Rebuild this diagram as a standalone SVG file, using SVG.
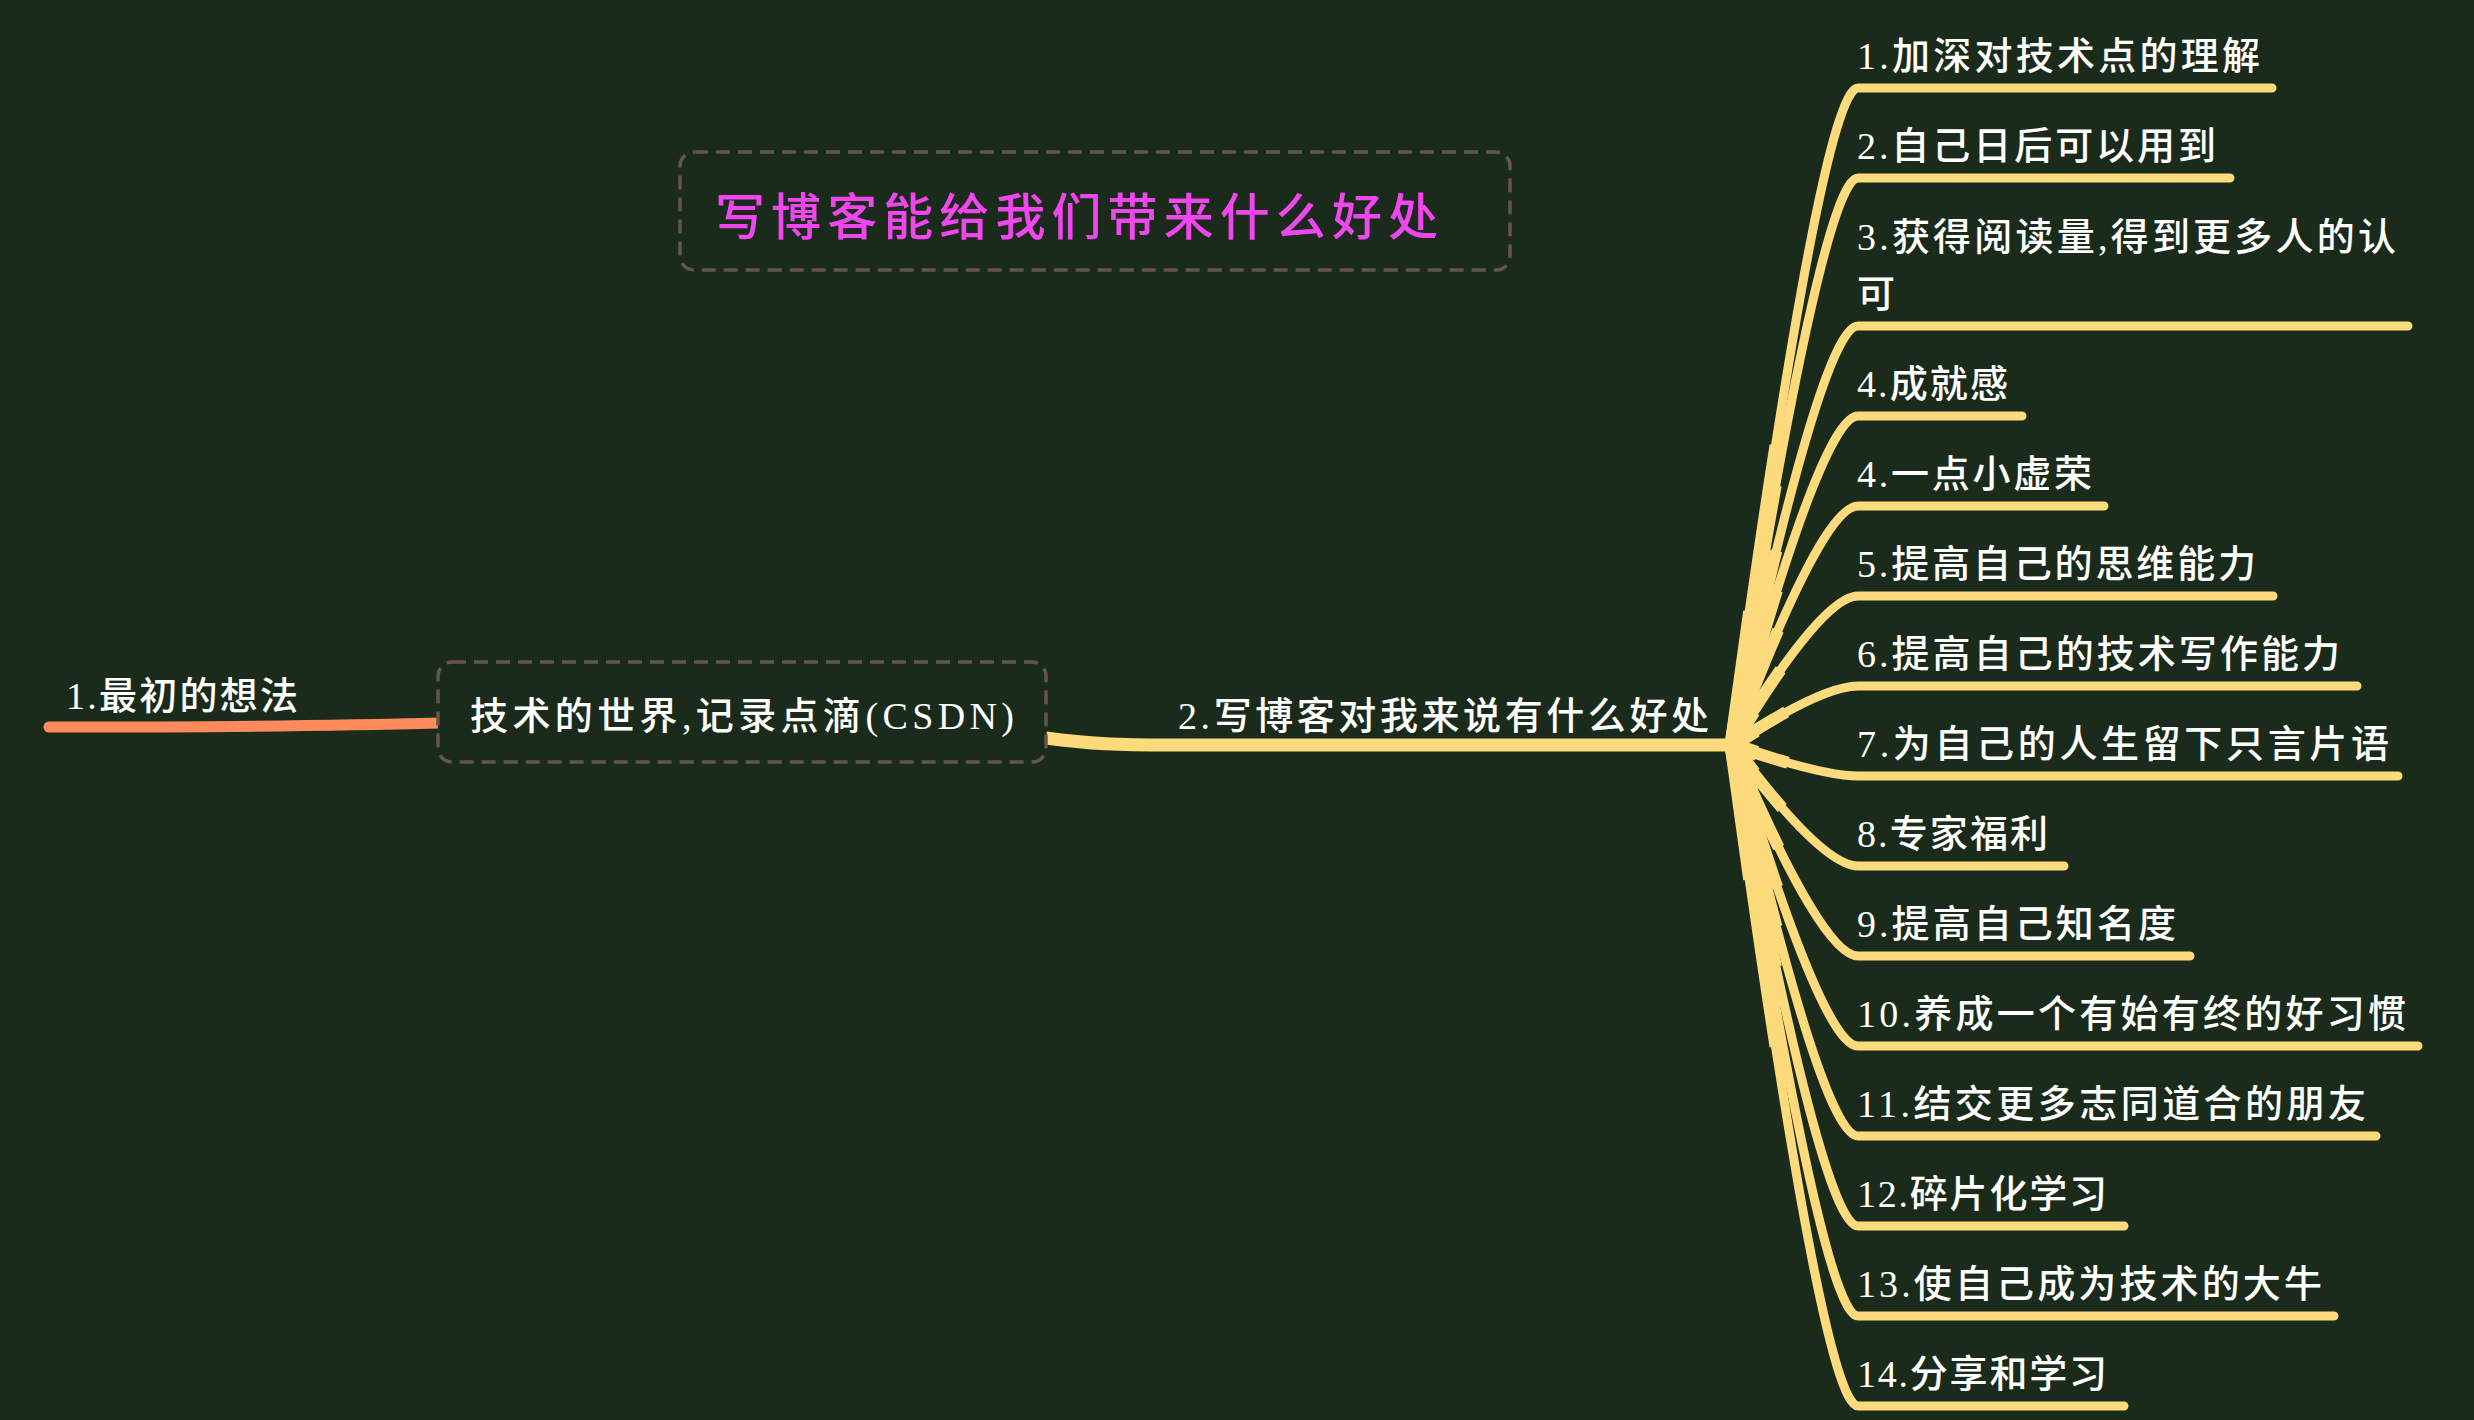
<svg xmlns="http://www.w3.org/2000/svg" width="2474" height="1420" viewBox="0 0 2474 1420">
<style>
.t{font-family:"Liberation Serif","Noto Sans CJK SC",serif;fill:#ffffff;font-size:38px;font-weight:500}
.title{font-family:"Liberation Serif","Noto Sans CJK SC",serif;fill:#f046ee;font-size:50px;font-weight:500}
.box{fill:#1b2b1b;stroke:#65564c;stroke-width:3.5;stroke-dasharray:14 8}
.br{fill:none;stroke:#fddb7c;stroke-width:9;stroke-linecap:round;stroke-linejoin:round}
.tp1{fill:none;stroke:#fddb7c;stroke-width:12;stroke-dasharray:45 200}
.tp2{fill:none;stroke:#fddb7c;stroke-width:15;stroke-dasharray:20 200}
</style>
<rect x="0" y="0" width="2474" height="1420" fill="#1b2b1b"/>
<g id="connectors">
<path d="M 49 727 C 200 727 330 726 440 723" fill="none" stroke="#ff8a5b" stroke-width="11" stroke-linecap="round"/>
<path d="M 1046 738 C 1090 744 1120 745 1170 745 L 1736 745" fill="none" stroke="#fddb7c" stroke-width="13"/>
<g id="branch-curves">
<path class="br" d="M 1732 745 Q 1822 88 1858 88 L 2272 88"/>
<path class="br" d="M 1732 745 Q 1822 178 1858 178 L 2230 178"/>
<path class="br" d="M 1732 745 Q 1822 326 1858 326 L 2408 326"/>
<path class="br" d="M 1732 745 Q 1822 416 1858 416 L 2022 416"/>
<path class="br" d="M 1732 745 Q 1822 506 1858 506 L 2104 506"/>
<path class="br" d="M 1732 745 Q 1822 596 1858 596 L 2273 596"/>
<path class="br" d="M 1732 745 Q 1822 686 1858 686 L 2357 686"/>
<path class="br" d="M 1732 745 Q 1822 776 1858 776 L 2398 776"/>
<path class="br" d="M 1732 745 Q 1822 866 1858 866 L 2064 866"/>
<path class="br" d="M 1732 745 Q 1822 956 1858 956 L 2190 956"/>
<path class="br" d="M 1732 745 Q 1822 1046 1858 1046 L 2418 1046"/>
<path class="br" d="M 1732 745 Q 1822 1136 1858 1136 L 2376 1136"/>
<path class="br" d="M 1732 745 Q 1822 1226 1858 1226 L 2124 1226"/>
<path class="br" d="M 1732 745 Q 1822 1316 1858 1316 L 2334 1316"/>
<path class="br" d="M 1732 745 Q 1822 1406 1858 1406 L 2124 1406"/>
</g>
<g id="branch-taper">
<path class="tp1" pathLength="100" d="M 1732 745 Q 1822 88 1858 88"/>
<path class="tp1" pathLength="100" d="M 1732 745 Q 1822 178 1858 178"/>
<path class="tp1" pathLength="100" d="M 1732 745 Q 1822 326 1858 326"/>
<path class="tp1" pathLength="100" d="M 1732 745 Q 1822 416 1858 416"/>
<path class="tp1" pathLength="100" d="M 1732 745 Q 1822 506 1858 506"/>
<path class="tp1" pathLength="100" d="M 1732 745 Q 1822 596 1858 596"/>
<path class="tp1" pathLength="100" d="M 1732 745 Q 1822 686 1858 686"/>
<path class="tp1" pathLength="100" d="M 1732 745 Q 1822 776 1858 776"/>
<path class="tp1" pathLength="100" d="M 1732 745 Q 1822 866 1858 866"/>
<path class="tp1" pathLength="100" d="M 1732 745 Q 1822 956 1858 956"/>
<path class="tp1" pathLength="100" d="M 1732 745 Q 1822 1046 1858 1046"/>
<path class="tp1" pathLength="100" d="M 1732 745 Q 1822 1136 1858 1136"/>
<path class="tp1" pathLength="100" d="M 1732 745 Q 1822 1226 1858 1226"/>
<path class="tp1" pathLength="100" d="M 1732 745 Q 1822 1316 1858 1316"/>
<path class="tp1" pathLength="100" d="M 1732 745 Q 1822 1406 1858 1406"/>
<path class="tp2" pathLength="100" d="M 1732 745 Q 1822 88 1858 88"/>
<path class="tp2" pathLength="100" d="M 1732 745 Q 1822 178 1858 178"/>
<path class="tp2" pathLength="100" d="M 1732 745 Q 1822 326 1858 326"/>
<path class="tp2" pathLength="100" d="M 1732 745 Q 1822 416 1858 416"/>
<path class="tp2" pathLength="100" d="M 1732 745 Q 1822 506 1858 506"/>
<path class="tp2" pathLength="100" d="M 1732 745 Q 1822 596 1858 596"/>
<path class="tp2" pathLength="100" d="M 1732 745 Q 1822 686 1858 686"/>
<path class="tp2" pathLength="100" d="M 1732 745 Q 1822 776 1858 776"/>
<path class="tp2" pathLength="100" d="M 1732 745 Q 1822 866 1858 866"/>
<path class="tp2" pathLength="100" d="M 1732 745 Q 1822 956 1858 956"/>
<path class="tp2" pathLength="100" d="M 1732 745 Q 1822 1046 1858 1046"/>
<path class="tp2" pathLength="100" d="M 1732 745 Q 1822 1136 1858 1136"/>
<path class="tp2" pathLength="100" d="M 1732 745 Q 1822 1226 1858 1226"/>
<path class="tp2" pathLength="100" d="M 1732 745 Q 1822 1316 1858 1316"/>
<path class="tp2" pathLength="100" d="M 1732 745 Q 1822 1406 1858 1406"/>
</g>
</g>
<g id="title">
<rect class="box" x="680" y="152" width="830" height="118" rx="14"/>
<text class="title" x="715" y="235" textLength="723" lengthAdjust="spacing">写博客能给我们带来什么好处</text>
</g>
<g id="n-left">
<text class="t" x="66" y="709" textLength="232" lengthAdjust="spacing">1.最初的想法</text>
</g>
<g id="n-center">
<rect class="box" x="438" y="662" width="608" height="100" rx="14"/>
<text class="t" x="470" y="729" textLength="544" lengthAdjust="spacing">技术的世界,记录点滴(CSDN)</text>
</g>
<g id="n-main">
<text class="t" x="1178" y="729" textLength="531" lengthAdjust="spacing">2.写博客对我来说有什么好处</text>
</g>
<g id="leaf-1"><text class="t" x="1857" y="69" textLength="403" lengthAdjust="spacing">1.加深对技术点的理解</text></g>
<g id="leaf-2"><text class="t" x="1857" y="159" textLength="359" lengthAdjust="spacing">2.自己日后可以用到</text></g>
<g id="leaf-3"><text class="t" x="1857" y="250" textLength="539" lengthAdjust="spacing">3.获得阅读量,得到更多人的认</text><text class="t" x="1857" y="307">可</text></g>
<g id="leaf-4"><text class="t" x="1857" y="397" textLength="151" lengthAdjust="spacing">4.成就感</text></g>
<g id="leaf-5"><text class="t" x="1857" y="487" textLength="235" lengthAdjust="spacing">4.一点小虚荣</text></g>
<g id="leaf-6"><text class="t" x="1857" y="577" textLength="399" lengthAdjust="spacing">5.提高自己的思维能力</text></g>
<g id="leaf-7"><text class="t" x="1857" y="667" textLength="483" lengthAdjust="spacing">6.提高自己的技术写作能力</text></g>
<g id="leaf-8"><text class="t" x="1857" y="757" textLength="532" lengthAdjust="spacing">7.为自己的人生留下只言片语</text></g>
<g id="leaf-9"><text class="t" x="1857" y="847" textLength="191" lengthAdjust="spacing">8.专家福利</text></g>
<g id="leaf-10"><text class="t" x="1857" y="937" textLength="319" lengthAdjust="spacing">9.提高自己知名度</text></g>
<g id="leaf-11"><text class="t" x="1857" y="1027" textLength="549" lengthAdjust="spacing">10.养成一个有始有终的好习惯</text></g>
<g id="leaf-12"><text class="t" x="1857" y="1117" textLength="509" lengthAdjust="spacing">11.结交更多志同道合的朋友</text></g>
<g id="leaf-13"><text class="t" x="1857" y="1207" textLength="250" lengthAdjust="spacing">12.碎片化学习</text></g>
<g id="leaf-14"><text class="t" x="1857" y="1297" textLength="465" lengthAdjust="spacing">13.使自己成为技术的大牛</text></g>
<g id="leaf-15"><text class="t" x="1857" y="1387" textLength="250" lengthAdjust="spacing">14.分享和学习</text></g>
</svg>
